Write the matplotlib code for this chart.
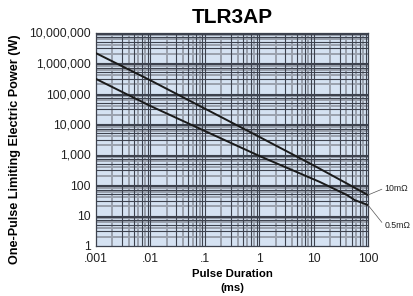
import matplotlib
matplotlib.use("Agg")
import matplotlib.pyplot as plt
import numpy as np
from matplotlib.ticker import FixedLocator, FixedFormatter, NullLocator

plt.rcParams['font.family'] = ['Liberation Sans', 'DejaVu Sans']

title = "TLR3AP"
duration_10m = [0.001, 0.01, 0.1, 1, 10, 100]
power_10m = [2100000, 270000, 32000, 3800, 440, 47]
duration_05m = [0.001, 0.01, 0.1, 1, 13, 41, 57, 100]
power_05m = [300000, 39000, 5900, 900, 126, 47, 32, 22]
series_labels = ["10m\u03a9", "0.5m\u03a9"]
xticks = [0.001, 0.01, 0.1, 1, 10, 100]
xticklabels = [".001", ".01", ".1", "1", "10", "100"]
yticks = [1, 10, 100, 1000, 10000, 100000, 1000000, 10000000]
yticklabels = ["1", "10", "100", "1,000", "10,000", "100,000", "1,000,000", "10,000,000"]

fig = plt.figure(figsize=(4.13, 2.96), dpi=100)
ax = fig.add_axes([96/413, 1-246/296, 272/413, (246-32.5)/296])
ax.set_facecolor("#d5e2f2")
ax.set_xscale("log")
ax.set_yscale("log")
ax.set_xlim(0.001, 100)
ax.set_ylim(1, 10000000)

dark = "#3d424e"
grey = "#9aa1ad"
# grid lines
for d in range(-3, 2):
    for m in range(2, 10):
        v = m * 10.0**d
        if m % 2 == 0:
            ax.axvline(v, color=grey, lw=1.4, zorder=1)
        else:
            ax.axvline(v, color=dark, lw=0.8, zorder=1.1)
    if d > -3:
        ax.axvline(10.0**d, color=dark, lw=0.8, zorder=1.1)
for d in range(0, 7):
    for m in range(2, 10):
        v = m * 10.0**d
        if m % 2 == 0:
            ax.axhline(v, color=grey, lw=1.4, zorder=1)
        else:
            ax.axhline(v, color=dark, lw=0.8, zorder=1.1)
    if d > 0:
        ax.axhline(10.0**d, color=dark, lw=0.8, zorder=1.1)

ax.plot(duration_10m, power_10m, color="#1a1a1a", lw=1.4, zorder=3)
ax.plot(duration_05m, power_05m, color="#1a1a1a", lw=1.4, zorder=3)

for s in ax.spines.values():
    s.set_color(dark)
    s.set_linewidth(0.9)

ax.xaxis.set_major_locator(FixedLocator(xticks))
ax.xaxis.set_major_formatter(FixedFormatter(xticklabels))
ax.xaxis.set_minor_locator(NullLocator())
ax.yaxis.set_major_locator(FixedLocator(yticks))
ax.yaxis.set_major_formatter(FixedFormatter(yticklabels))
ax.yaxis.set_minor_locator(NullLocator())
ax.tick_params(length=0, labelsize=8.8, colors="#222222")
ax.tick_params(axis="x", pad=5)
ax.tick_params(axis="y", pad=4)

ax.set_title(title, fontsize=15, fontweight="bold", pad=7)
ax.set_xlabel("Pulse Duration\n(ms)", fontsize=8.2, fontweight="bold", labelpad=3, linespacing=1.45)
ax.set_ylabel("One-Pulse Limiting Electric Power (W)", fontsize=9.1, fontweight="bold")
ax.yaxis.set_label_coords(-75/272, (246-149)/213.5)

ax.annotate(series_labels[0], xy=(duration_10m[-1], power_10m[-1]),
            xytext=(12, 5), textcoords="offset points", fontsize=6.3, va="center",
            annotation_clip=False, color="#222222",
            arrowprops=dict(arrowstyle="-", color="#555555", lw=0.5, shrinkA=0, shrinkB=0, relpos=(0, 0.5)))
ax.annotate(series_labels[1], xy=(duration_05m[-1], power_05m[-1]),
            xytext=(12, -15), textcoords="offset points", fontsize=6.3, va="center",
            annotation_clip=False, color="#222222",
            arrowprops=dict(arrowstyle="-", color="#555555", lw=0.5, shrinkA=0, shrinkB=0, relpos=(0, 0.5)))

fig.savefig("out.png", dpi=100)
